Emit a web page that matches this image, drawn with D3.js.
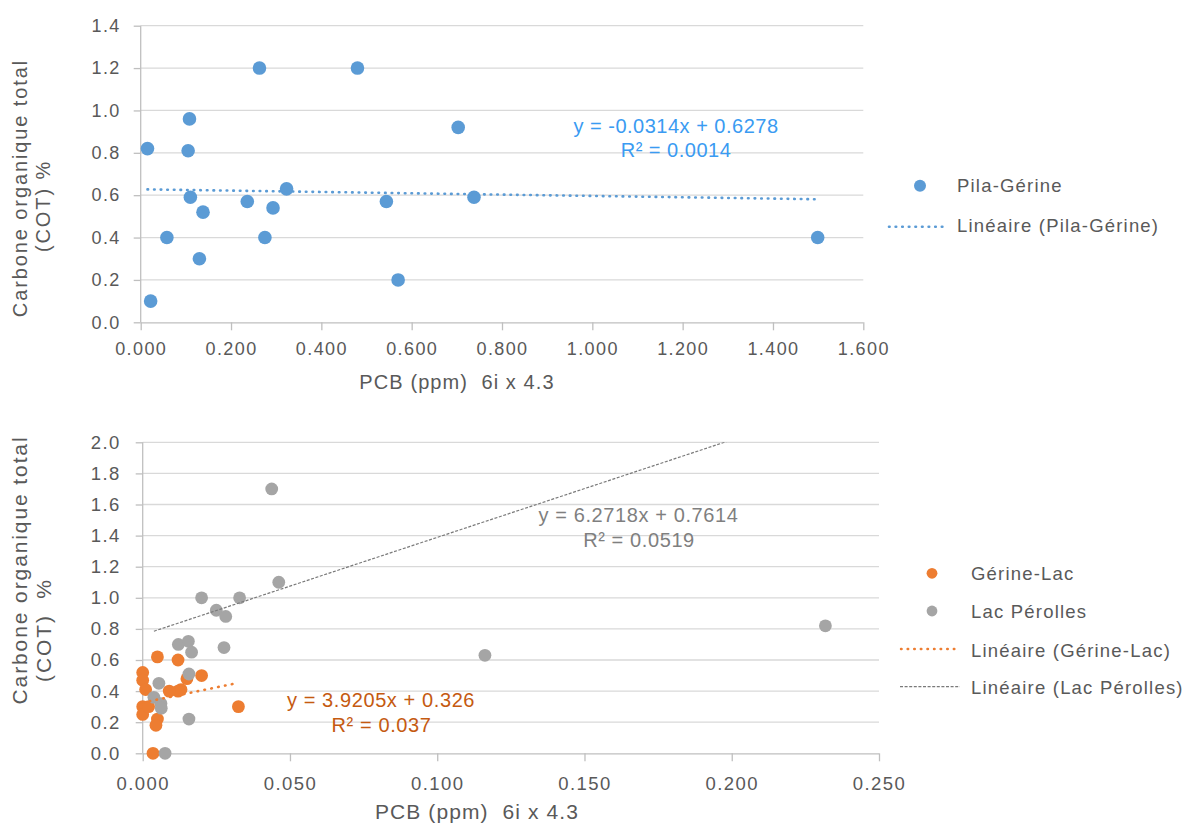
<!DOCTYPE html>
<html><head><meta charset="utf-8">
<script src="https://cdn.jsdelivr.net/npm/d3@7"></script>
<style>
body{margin:0;background:#fff;}
svg text{font-family:"Liberation Sans",Arial,sans-serif;fill:#595959;}
</style></head>
<body><svg id="c" width="1185" height="825"></svg>
<script>
// ---- Top chart data ----
const pilaX = [0.015,0.022,0.058,0.108,0.105,0.110,0.138,0.130,0.263,0.236,0.293,0.275,0.323,0.480,0.544,0.570,0.703,0.738,1.499];
const pilaY = [0.82,0.10,0.40,0.96,0.81,0.59,0.52,0.30,1.20,0.57,0.54,0.40,0.63,1.20,0.57,0.20,0.92,0.59,0.40];
const pilaFit = [-0.0314, 0.6278];
const topXTicks = [0,0.2,0.4,0.6,0.8,1.0,1.2,1.4,1.6];
const topYTicks = [0,0.2,0.4,0.6,0.8,1.0,1.2,1.4];

// ---- Bottom chart data ----
const gerX = [0.000,0.000,0.001,0.000,0.000,0.002,0.005,0.012,0.020,0.015,0.013,0.012,0.009,0.005,0.0045,0.0035,0.0325];
const gerY = [0.52,0.47,0.41,0.30,0.25,0.30,0.62,0.60,0.50,0.48,0.41,0.40,0.40,0.22,0.18,0.00,0.30];
const lacX = [0.0438,0.0462,0.020,0.0329,0.025,0.0282,0.0121,0.0155,0.0166,0.0276,0.0157,0.0055,0.0038,0.0062,0.0063,0.0157,0.0076,0.1162,0.2318];
const lacY = [1.70,1.10,1.00,1.00,0.92,0.88,0.70,0.72,0.65,0.68,0.51,0.45,0.36,0.32,0.29,0.22,0.00,0.63,0.82];
const gerFit = [3.9205, 0.326];
const lacFit = [6.2718, 0.7614];
const botXTicks = [0,0.05,0.1,0.15,0.2,0.25];
const botYTicks = [0,0.2,0.4,0.6,0.8,1.0,1.2,1.4,1.6,1.8,2.0];

const xTitle = "PCB (ppm)  6i x 4.3";
const yTitle1 = "Carbone organique total";
const yTitle2Top = "(COT) %";
const yTitle2Bot = "(COT)  %";

const svg = d3.select("#c");
const C = {blue:"#5B9BD5", blueTxt:"#3A9BF2", orange:"#ED7D31", orangeTxt:"#C55A11", gray:"#A5A5A5", grayTxt:"#7F7F7F", grid:"#D9D9D9", axis:"#BFBFBF"};

function chart(o){
  const g = svg.append("g");
  const x = d3.scaleLinear().domain(o.xd).range([o.x0,o.x1]);
  const y = d3.scaleLinear().domain(o.yd).range([o.y0,o.y1]);
  const clipId = "clip"+o.id;
  g.append("clipPath").attr("id",clipId).append("rect")
    .attr("x",o.x0).attr("y",o.y1).attr("width",o.x1-o.x0).attr("height",o.y0-o.y1);
  g.selectAll(".gl").data(o.yt.slice(1)).enter().append("line")
    .attr("x1",o.x0).attr("x2",o.x1).attr("y1",d=>y(d)).attr("y2",d=>y(d))
    .attr("stroke",C.grid).attr("stroke-width",1.3);
  const xa = d3.axisBottom(x).tickValues(o.xt).tickFormat(d3.format(".3f")).tickSize(8).tickPadding(10);
  const ya = d3.axisLeft(y).tickValues(o.yt).tickFormat(d3.format(".1f")).tickSize(7).tickPadding(o.ypad);
  const gx = g.append("g").attr("transform",`translate(0,${o.y0})`).call(xa);
  const gy = g.append("g").attr("transform",`translate(${o.x0},0)`).call(ya);
  [gx,gy].forEach(a=>{
    a.select(".domain").attr("stroke",C.axis).attr("stroke-width",1.3);
    a.selectAll(".tick line").attr("stroke",C.axis).attr("stroke-width",1.3);
    a.selectAll(".tick text").style("font-size",o.tfs+"px").style("letter-spacing","1.4px")
      .attr("fill","#595959").style("font-family","'Liberation Sans',Arial,sans-serif");
  });
  gx.select(".domain").attr("d",`M${o.x0},0.5H${o.x1}`);
  gy.select(".domain").attr("d",`M0,${o.y0}V${o.y1}`);
  gx.selectAll(".tick text").attr("dy",null).attr("y",o.xlabY-o.y0);
  g.append("text").attr("x",o.xtx).attr("y",o.xty).attr("text-anchor","middle")
    .style("font-size",o.afs+"px").style("letter-spacing","1.1px").style("white-space","pre").text(xTitle);
  g.append("text").attr("transform",`translate(${o.yt1x},${o.yt1y}) rotate(-90)`).attr("text-anchor","middle")
    .style("font-size",o.afs+"px").style("letter-spacing","1.9px").text(yTitle1);
  g.append("text").attr("transform",`translate(${o.yt2x},${o.yt2y}) rotate(-90)`).attr("text-anchor","middle")
    .style("font-size",o.afs+"px").style("letter-spacing","1.9px").style("white-space","pre").text(o.yTitle2);
  return {g,x,y,clipId};
}

// ---- Top chart ----
const T = chart({id:"t", xd:[0,1.6], yd:[0,1.4], x0:140.7, x1:863.3, y0:322.3, y1:25.7,
  xt:topXTicks, yt:topYTicks, tfs:18, ypad:13, xlabY:355, afs:20,
  xtx:457, xty:389, yt1x:27, yt1y:188, yt2x:50, yt2y:206, yTitle2:yTitle2Top});
T.g.selectAll(".pt").data(pilaX.map((d,i)=>[d,pilaY[i]])).enter().append("circle")
  .attr("cx",d=>T.x(d[0])).attr("cy",d=>T.y(d[1])).attr("r",6.8).attr("fill",C.blue);
{
  const ex = d3.extent(pilaX);
  T.g.append("line").attr("clip-path",`url(#${T.clipId})`)
    .attr("x1",T.x(ex[0])).attr("x2",T.x(ex[1]))
    .attr("y1",T.y(pilaFit[0]*ex[0]+pilaFit[1])).attr("y2",T.y(pilaFit[0]*ex[1]+pilaFit[1]))
    .attr("stroke",C.blue).attr("stroke-width",2.6).attr("stroke-dasharray","0.6 6").attr("stroke-linecap","round");
}
T.g.append("text").attr("x",676).attr("y",133).attr("text-anchor","middle")
  .style("fill",C.blueTxt).style("font-size","20px").style("letter-spacing","0.5px").text("y = -0.0314x + 0.6278");
T.g.append("text").attr("x",676).attr("y",157).attr("text-anchor","middle")
  .style("fill",C.blueTxt).style("font-size","20px").style("letter-spacing","0.5px").text("R² = 0.0014");
T.g.append("circle").attr("cx",920).attr("cy",185.7).attr("r",6).attr("fill",C.blue);
T.g.append("text").attr("x",957).attr("y",192.3).style("font-size","18.5px").style("letter-spacing","1.2px").text("Pila-Gérine");
T.g.append("line").attr("x1",889).attr("x2",945).attr("y1",226.7).attr("y2",226.7)
  .attr("stroke",C.blue).attr("stroke-width",2.6).attr("stroke-dasharray","0.6 6").attr("stroke-linecap","round");
T.g.append("text").attr("x",957).attr("y",231.7).style("font-size","18.5px").style("letter-spacing","1.2px").text("Linéaire (Pila-Gérine)");

// ---- Bottom chart ----
const B = chart({id:"b", xd:[0,0.25], yd:[0,2.0], x0:142.7, x1:879, y0:753.3, y1:442.3,
  xt:botXTicks, yt:botYTicks, tfs:18.5, ypad:15, xlabY:790, afs:21,
  xtx:477, xty:819, yt1x:27, yt1y:570, yt2x:51, yt2y:630, yTitle2:yTitle2Bot});
B.g.selectAll(".po").data(gerX.map((d,i)=>[d,gerY[i]])).enter().append("circle")
  .attr("cx",d=>B.x(d[0])).attr("cy",d=>B.y(d[1])).attr("r",6.4).attr("fill",C.orange);
B.g.selectAll(".pg").data(lacX.map((d,i)=>[d,lacY[i]])).enter().append("circle")
  .attr("cx",d=>B.x(d[0])).attr("cy",d=>B.y(d[1])).attr("r",6.4).attr("fill",C.gray);
{
  const e1 = d3.extent(gerX);
  B.g.append("line").attr("clip-path",`url(#${B.clipId})`)
    .attr("x1",B.x(e1[0])).attr("x2",B.x(e1[1]))
    .attr("y1",B.y(gerFit[0]*e1[0]+gerFit[1])).attr("y2",B.y(gerFit[0]*e1[1]+gerFit[1]))
    .attr("stroke",C.orange).attr("stroke-width",2.6).attr("stroke-dasharray","0.6 6.4").attr("stroke-linecap","round");
  const e2 = d3.extent(lacX);
  B.g.append("line").attr("clip-path",`url(#${B.clipId})`)
    .attr("x1",B.x(e2[0])).attr("x2",B.x(e2[1]))
    .attr("y1",B.y(lacFit[0]*e2[0]+lacFit[1])).attr("y2",B.y(lacFit[0]*e2[1]+lacFit[1]))
    .attr("stroke","#7A7A7A").attr("stroke-width",1.2).attr("stroke-dasharray","3 1.6");
}
B.g.append("text").attr("x",638.5).attr("y",521.7).attr("text-anchor","middle")
  .style("fill",C.grayTxt).style("font-size","20px").style("letter-spacing","0.6px").text("y = 6.2718x + 0.7614");
B.g.append("text").attr("x",639).attr("y",546.7).attr("text-anchor","middle")
  .style("fill",C.grayTxt).style("font-size","20px").style("letter-spacing","0.6px").text("R² = 0.0519");
B.g.append("text").attr("x",381).attr("y",707).attr("text-anchor","middle")
  .style("fill",C.orangeTxt).style("font-size","20px").style("letter-spacing","0.6px").text("y = 3.9205x + 0.326");
B.g.append("text").attr("x",381.5).attr("y",731.7).attr("text-anchor","middle")
  .style("fill",C.orangeTxt).style("font-size","20px").style("letter-spacing","0.6px").text("R² = 0.037");
B.g.append("circle").attr("cx",932).attr("cy",573.3).attr("r",5.4).attr("fill",C.orange);
B.g.append("text").attr("x",971).attr("y",580).style("font-size","18.5px").style("letter-spacing","1.2px").text("Gérine-Lac");
B.g.append("circle").attr("cx",932).attr("cy",611).attr("r",5.4).attr("fill",C.gray);
B.g.append("text").attr("x",971).attr("y",618.3).style("font-size","18.5px").style("letter-spacing","1.2px").text("Lac Pérolles");
B.g.append("line").attr("x1",901).attr("x2",958).attr("y1",649).attr("y2",649)
  .attr("stroke",C.orange).attr("stroke-width",2.4).attr("stroke-dasharray","0.6 6").attr("stroke-linecap","round");
B.g.append("text").attr("x",971).attr("y",656.7).style("font-size","18.5px").style("letter-spacing","1.2px").text("Linéaire (Gérine-Lac)");
B.g.append("line").attr("x1",900).attr("x2",960).attr("y1",686.7).attr("y2",686.7)
  .attr("stroke","#7A7A7A").attr("stroke-width",1.2).attr("stroke-dasharray","3 1.6");
B.g.append("text").attr("x",971).attr("y",694.3).style("font-size","18.5px").style("letter-spacing","1.2px").text("Linéaire (Lac Pérolles)");
</script></body></html>
